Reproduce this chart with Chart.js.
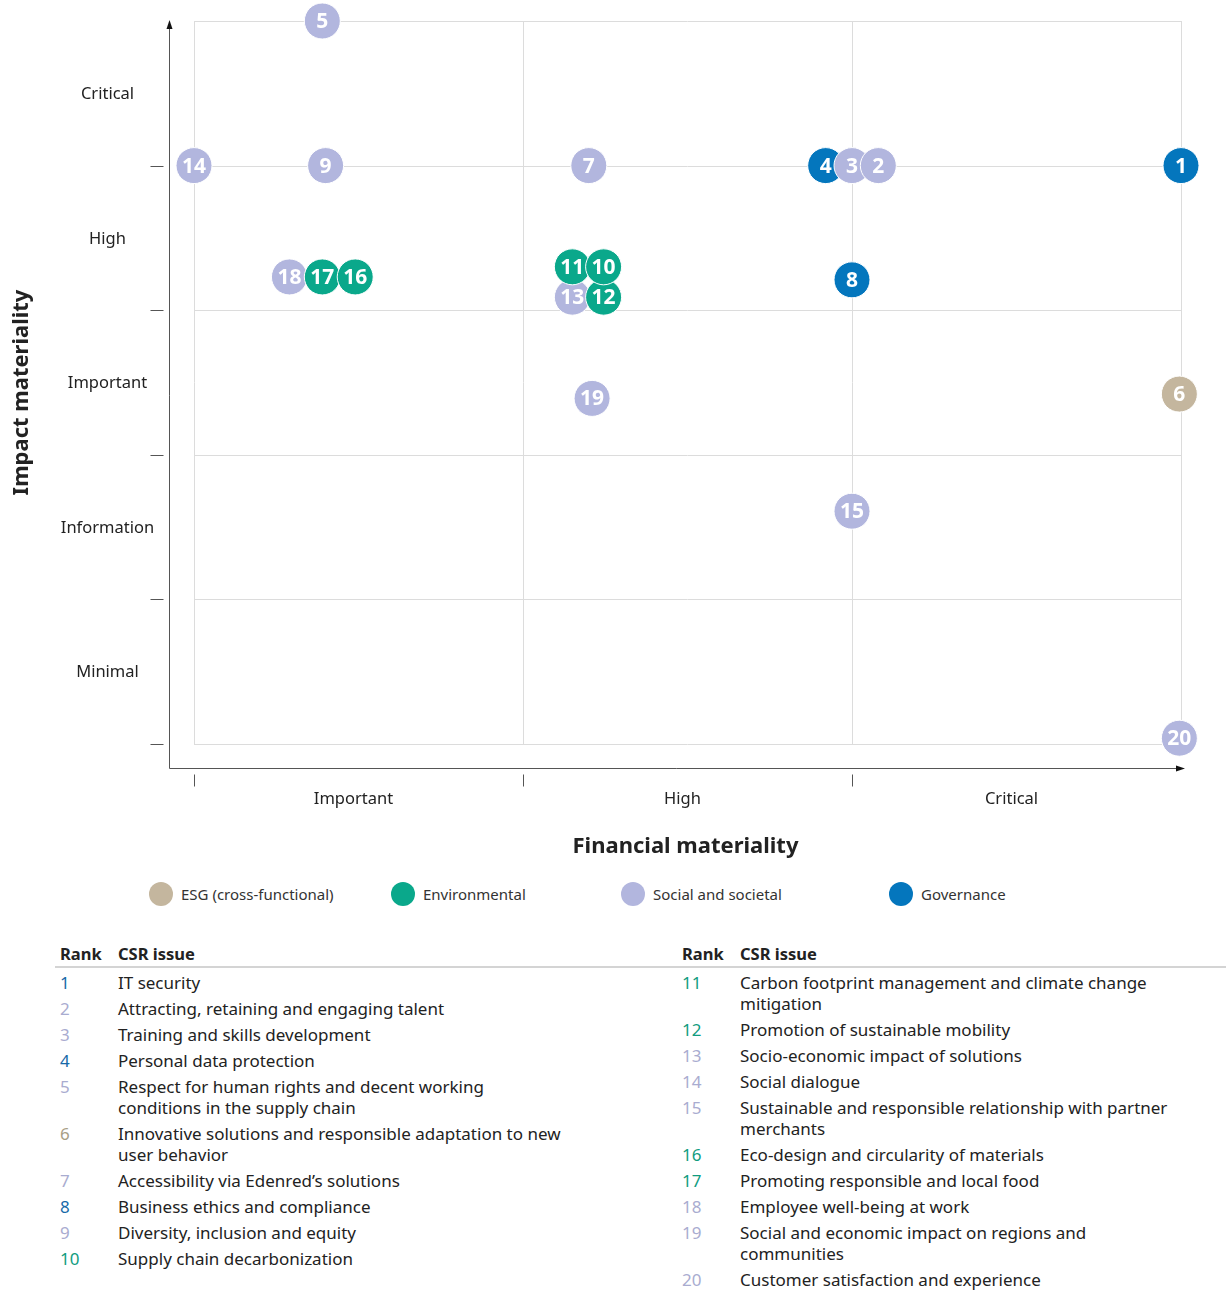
<!DOCTYPE html>
<html>
<head>
<meta charset="utf-8">
<script src="https://cdn.jsdelivr.net/npm/chart.js@4.4.1/dist/chart.umd.min.js"></script>
<style>
  html, body { margin: 0; padding: 0; background: #fff; font-family: "Noto Sans", "Open Sans", sans-serif; color: #222; }
  #wrap { position: relative; width: 1226px; height: 1300px; overflow: hidden; }
  #chartBox { position: absolute; left: 0; top: 0; width: 1226px; height: 870px; }
  .legend { position: absolute; top: 882px; left: 0; width: 1226px; height: 26px; }
  .lg { position: absolute; top: 0; display: flex; align-items: center; font-size: 15px; color: #333; }
  .lg .dot { width: 24px; height: 24px; border-radius: 50%; margin-right: 8px; }
  .tbl { position: absolute; top: 942px; }
  .hdr { font-weight: bold; font-size: 16.5px; height: 24px; position: relative; color: #222; }
  .hdr span { position: absolute; top: 0; }
  .rule { position: absolute; top: 966px; left: 55px; width: 1171px; height: 2px; background: #d4d4d4; }
  .row { position: relative; font-size: 17px; line-height: 21px; margin-bottom: 5px; color: #222; }
  .row .rk { position: absolute; left: 0; top: 0; }
  .row .tx { white-space: pre-line; }
</style>
</head>
<body>
<div id="wrap">
  <div id="chartBox"><canvas id="c" width="1226" height="870"></canvas></div>
  <div class="legend" id="legend"></div>
  <div class="rule"></div>
  <div class="tbl" id="tblL" style="left:60px;"></div>
  <div class="tbl" id="tblR" style="left:682px;"></div>
</div>
<script>
// ---- Data ----
const ranks = [1,2,3,4,5,6,7,8,9,10,11,12,13,14,15,16,17,18,19,20];
const financial = [3.0,2.08,2.0,1.92,0.39,2.995,1.2,2.0,0.4,1.245,1.15,1.245,1.15,0.0,2.0,0.49,0.39,0.29,1.21,2.995];
const impact    = [4.0,4.0,4.0,4.0,5.0,2.42,4.0,3.21,4.0,3.3,3.3,3.09,3.09,4.0,1.61,3.23,3.23,3.23,2.39,0.04];
const category  = ["Governance","Social and societal","Social and societal","Governance","Social and societal",
                   "ESG (cross-functional)","Social and societal","Governance","Social and societal","Environmental",
                   "Environmental","Environmental","Social and societal","Social and societal","Social and societal",
                   "Environmental","Environmental","Social and societal","Social and societal","Social and societal"];
const issues = ["IT security","Attracting, retaining and engaging talent","Training and skills development",
  "Personal data protection","Respect for human rights and decent working\nconditions in the supply chain",
  "Innovative solutions and responsible adaptation to new\nuser behavior","Accessibility via Edenred’s solutions",
  "Business ethics and compliance","Diversity, inclusion and equity","Supply chain decarbonization",
  "Carbon footprint management and climate change\nmitigation","Promotion of sustainable mobility",
  "Socio-economic impact of solutions","Social dialogue",
  "Sustainable and responsible relationship with partner\nmerchants","Eco-design and circularity of materials",
  "Promoting responsible and local food","Employee well-being at work",
  "Social and economic impact on regions and\ncommunities","Customer satisfaction and experience"];
const legendCategories = ["ESG (cross-functional)","Environmental","Social and societal","Governance"];
const xTickLabels = ["Important","High","Critical"];
const yTickLabels = ["Minimal","Information","Important","High","Critical"];
const xTitle = "Financial materiality";
const yTitle = "Impact materiality";
const tableHeaders = ["Rank","CSR issue"];

// ---- Styles ----
const catColor = {
  "ESG (cross-functional)": "#c4b69e",
  "Environmental": "#0aa88b",
  "Social and societal": "#b2b6de",
  "Governance": "#0476bd"
};
const rankColor = {
  "ESG (cross-functional)": "#a89e86",
  "Environmental": "#119c80",
  "Social and societal": "#a9acd0",
  "Governance": "#1769a8"
};

// draw highest rank first so lower ranks sit on top
const order = ranks.map((r,i)=>i).sort((a,b)=>ranks[b]-ranks[a]);
const points = order.map(i => ({x: financial[i], y: impact[i], rank: ranks[i]}));
const colors = order.map(i => catColor[category[i]]);

const FONT = '"Noto Sans", "Open Sans", sans-serif';

const decor = {
  id: 'decor',
  beforeDatasetsDraw(chart) {
    const {ctx, chartArea: a, scales: {x, y}} = chart;
    ctx.save();
    // grid
    ctx.strokeStyle = '#dcdcdc'; ctx.lineWidth = 1;
    for (let v = 0; v <= 3; v++) {
      const px = Math.round(x.getPixelForValue(v)) + 0.5;
      ctx.beginPath(); ctx.moveTo(px, y.getPixelForValue(5)); ctx.lineTo(px, y.getPixelForValue(0)); ctx.stroke();
    }
    for (let v = 0; v <= 5; v++) {
      const py = Math.round(y.getPixelForValue(v)) + 0.5;
      ctx.beginPath(); ctx.moveTo(x.getPixelForValue(0), py); ctx.lineTo(x.getPixelForValue(3), py); ctx.stroke();
    }
    // axes with arrows
    const ax = x.getPixelForValue(0) - 25 + 0.5;
    const ay = y.getPixelForValue(0) + 24 + 0.5;
    ctx.strokeStyle = '#555'; ctx.lineWidth = 1;
    ctx.beginPath(); ctx.moveTo(ax, ay); ctx.lineTo(ax, a.top + 2); ctx.stroke();
    ctx.beginPath(); ctx.moveTo(ax, ay); ctx.lineTo(x.getPixelForValue(3) + 2, ay); ctx.stroke();
    ctx.fillStyle = '#111';
    ctx.beginPath(); ctx.moveTo(ax, a.top - 1); ctx.lineTo(ax - 3, a.top + 8); ctx.lineTo(ax + 3, a.top + 8); ctx.closePath(); ctx.fill();
    const ex = x.getPixelForValue(3) + 4;
    ctx.beginPath(); ctx.moveTo(ex, ay); ctx.lineTo(ex - 9, ay - 3); ctx.lineTo(ex - 9, ay + 3); ctx.closePath(); ctx.fill();
    // tick marks
    ctx.strokeStyle = '#555';
    for (let v = 0; v <= 4; v++) {
      const py = Math.round(y.getPixelForValue(v)) + 0.5;
      ctx.beginPath(); ctx.moveTo(ax - 19, py); ctx.lineTo(ax - 6, py); ctx.stroke();
    }
    for (let v = 0; v <= 2; v++) {
      const px = Math.round(x.getPixelForValue(v)) + 0.5;
      ctx.beginPath(); ctx.moveTo(px, ay + 6); ctx.lineTo(px, ay + 18); ctx.stroke();
    }
    // tick labels
    ctx.fillStyle = '#222';
    ctx.font = '16.5px ' + FONT;
    ctx.textAlign = 'center'; ctx.textBaseline = 'middle';
    yTickLabels.forEach((t, i) => ctx.fillText(t, ax - 62, y.getPixelForValue(i + 0.5) + 1));
    xTickLabels.forEach((t, i) => ctx.fillText(t, x.getPixelForValue(i + 0.5) - 5, ay + 31));
    // titles
    ctx.font = 'bold 22px ' + FONT;
    ctx.fillText(xTitle, (x.getPixelForValue(0) + x.getPixelForValue(3)) / 2 - 2, ay + 78);
    ctx.save();
    ctx.translate(22, (y.getPixelForValue(0) + y.getPixelForValue(5)) / 2 + 10);
    ctx.rotate(-Math.PI / 2);
    ctx.fillText(yTitle, 0, 0);
    ctx.restore();
    ctx.restore();
  },
  afterDatasetsDraw(chart) {
    const {ctx} = chart;
    const meta = chart.getDatasetMeta(0);
    ctx.save();
    ctx.fillStyle = '#fff';
    ctx.font = 'bold 21px ' + FONT;
    ctx.textAlign = 'center'; ctx.textBaseline = 'middle';
    meta.data.forEach((el, i) => {
      ctx.fillText(String(points[i].rank), el.x, el.y + 1);
    });
    ctx.restore();
  }
};

new Chart(document.getElementById('c'), {
  type: 'scatter',
  data: {
    datasets: [{
      data: points,
      pointRadius: 18,
      pointHoverRadius: 18,
      pointBackgroundColor: colors,
      pointBorderColor: '#ffffff',
      pointBorderWidth: 1,
      clip: false
    }]
  },
  options: {
    responsive: false,
    animation: false,
    events: [],
    layout: { padding: { left: 194, right: 45, top: 21, bottom: 126 } },
    plugins: { legend: { display: false }, tooltip: { enabled: false } },
    scales: {
      x: { type: 'linear', min: 0, max: 3, display: false },
      y: { type: 'linear', min: 0, max: 5, display: false }
    }
  },
  plugins: [decor]
});

// ---- Legend ----
const lgX = [149, 391, 621, 889];
const lg = document.getElementById('legend');
legendCategories.forEach((c, i) => {
  const d = document.createElement('div');
  d.className = 'lg'; d.style.left = lgX[i] + 'px';
  d.innerHTML = '<span class="dot" style="background:' + catColor[c] + '"></span><span>' + c + '</span>';
  lg.appendChild(d);
});

// ---- Table ----
function buildTable(el, from, to) {
  const h = document.createElement('div');
  h.className = 'hdr';
  h.innerHTML = '<span style="left:0">' + tableHeaders[0] + '</span><span style="left:58px">' + tableHeaders[1] + '</span>';
  el.appendChild(h);
  const sp = document.createElement('div'); sp.style.height = '6px'; el.appendChild(sp);
  for (let i = from; i < to; i++) {
    const r = document.createElement('div');
    r.className = 'row';
    const rk = document.createElement('span'); rk.className = 'rk'; rk.textContent = ranks[i];
    rk.style.color = rankColor[category[i]];
    const tx = document.createElement('div'); tx.className = 'tx'; tx.style.marginLeft = '58px'; tx.textContent = issues[i];
    r.appendChild(rk); r.appendChild(tx);
    el.appendChild(r);
  }
}
buildTable(document.getElementById('tblL'), 0, 10);
buildTable(document.getElementById('tblR'), 10, 20);
</script>
</body>
</html>
